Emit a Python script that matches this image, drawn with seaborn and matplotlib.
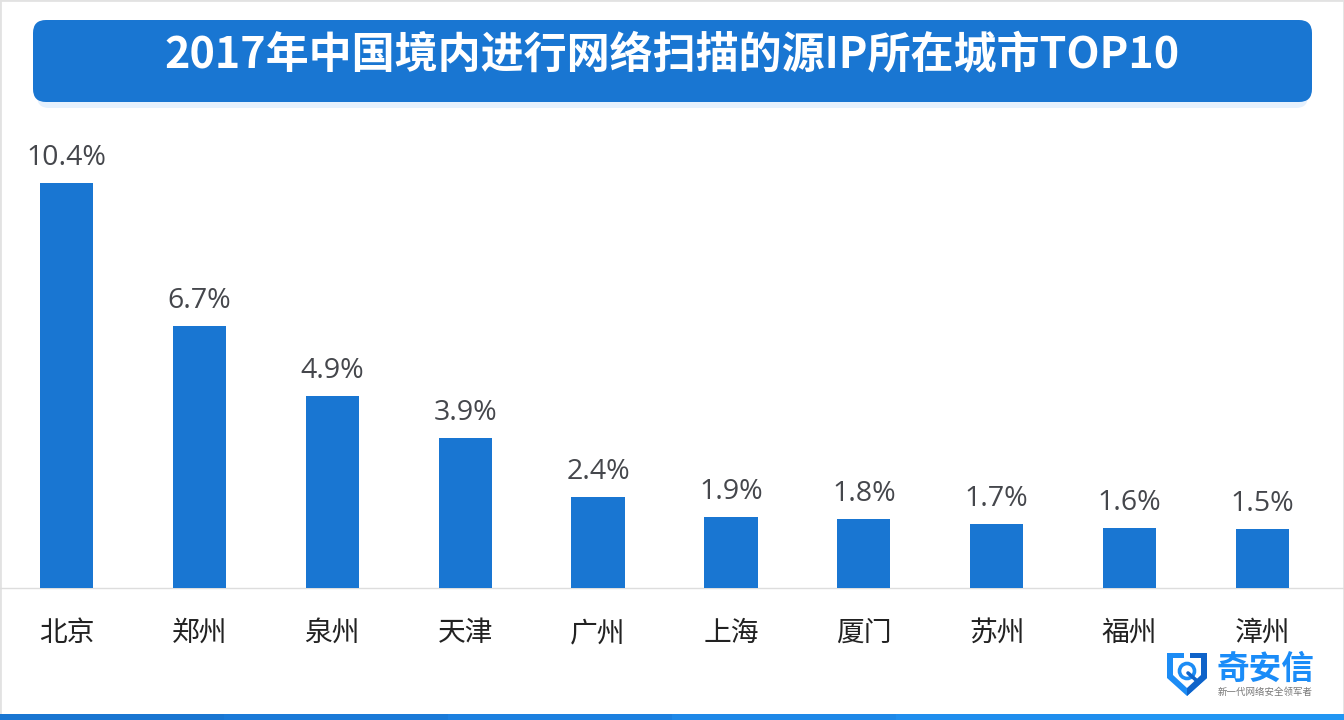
import matplotlib
matplotlib.use("Agg")
import matplotlib.pyplot as plt
from matplotlib.patches import FancyBboxPatch, Polygon, Rectangle, Circle
import seaborn as sns
import pandas as pd

cities = ["北京", "郑州", "泉州", "天津", "广州", "上海", "厦门", "苏州", "福州", "漳州"]
bar_heights = [10.4, 6.71, 4.92, 3.84, 2.32, 1.81, 1.76, 1.63, 1.53, 1.5]
value_labels = ["10.4%", "6.7%", "4.9%", "3.9%", "2.4%", "1.9%", "1.8%", "1.7%", "1.6%", "1.5%"]
title_text = "2017年中国境内进行网络扫描的源IP所在城市TOP10"
brand = "奇安信"
slogan = "新一代网络安全领军者"

sns.set_theme(style="white")
plt.rcParams['font.family'] = ['Noto Sans CJK SC', 'DejaVu Sans']

W, H = 1344, 720
BLUE = "#1976d2"
fig = plt.figure(figsize=(W / 100, H / 100), dpi=100, facecolor="white")

# overlay in pixel coordinates for decoration
bg = fig.add_axes([0, 0, 1, 1], zorder=0)
bg.set_xlim(0, W); bg.set_ylim(H, 0); bg.axis("off")
bg.add_patch(Rectangle((0, 0), W, H, fc="none", ec="#e2e2e2", lw=2))
for i, c in enumerate(["#1976d2", "#1a7ad8", "#1c80e0", "#1e88e8", "#1f8eee", "#2196f3"]):
    bg.add_patch(Rectangle((W * i / 6, 714), W / 6 + 1, 6, fc=c, ec="none"))
bg.add_patch(FancyBboxPatch((37, 38), 1271, 70, boxstyle="round,pad=0,rounding_size=12",
                            fc="#e6f1fd", ec="none"))
bg.add_patch(FancyBboxPatch((33, 20), 1279, 82, boxstyle="round,pad=0,rounding_size=13",
                            fc=BLUE, ec="none"))
bg.text(672.5, 54.5, title_text, color="white", fontsize=31, fontweight="bold", ha="center", va="center")
bg.plot([0, W], [588, 588], color="#dddddd", lw=1)

# chart
top_px, base_px = 110, 587.5
px_per_unit = 38.94
ax = fig.add_axes([0, 1 - base_px / H, 1329 / W, (base_px - top_px) / H], zorder=1)
ax.patch.set_alpha(0)
df = pd.DataFrame({"city": cities, "value": bar_heights})
sns.barplot(data=df, x="city", y="value", color=BLUE, saturation=1, width=0.4, linewidth=0, ax=ax)
ax.set_xlim(-0.5, 9.5)
ax.set_ylim(0, (base_px - top_px) / px_per_unit)
ax.set_xlabel(""); ax.set_ylabel("")
ax.set_yticks([])
sns.despine(ax=ax, left=True, bottom=True)
ax.tick_params(axis="x", length=0, pad=22, labelsize=20, labelcolor="#222222")
for i, (v, s) in enumerate(zip(bar_heights, value_labels)):
    ax.annotate(s, (i, v), xytext=(0, 18), textcoords="offset points", ha="center", va="center",
                fontsize=20.5, color="#45474c", family=["Open Sans", "DejaVu Sans"])

# logo
bg2 = fig.add_axes([0, 0, 1, 1], zorder=2)
bg2.set_xlim(0, W); bg2.set_ylim(H, 0); bg2.axis("off")
bg2.add_patch(Polygon([(1167, 653), (1207, 653), (1207, 678), (1187, 696), (1167, 678)], fc="#1c8cf5", ec="none"))
bg2.add_patch(Polygon([(1187, 653), (1207, 653), (1207, 678), (1187, 696)], fc="#0f63c9", ec="none"))
bg2.add_patch(Polygon([(1173, 658), (1201, 658), (1201, 675), (1187, 688), (1173, 675)], fc="white", ec="none"))
bg2.add_patch(Rectangle((1184, 653), 6, 6, fc="white", ec="none"))
bg2.add_patch(Circle((1187, 671), 7.5, fc="none", ec="#1c8cf5", lw=2.6))
bg2.plot([1188, 1196], [673, 680], color="#0f63c9", lw=2.6)
bg2.text(1265, 669.5, brand, color="#1a8cf8", fontsize=23.5, fontweight="bold", ha="center", va="center")
bg2.text(1265, 692, slogan, color="#777777", fontsize=6.8, ha="center", va="center")

fig.savefig("out.png", dpi=100)
